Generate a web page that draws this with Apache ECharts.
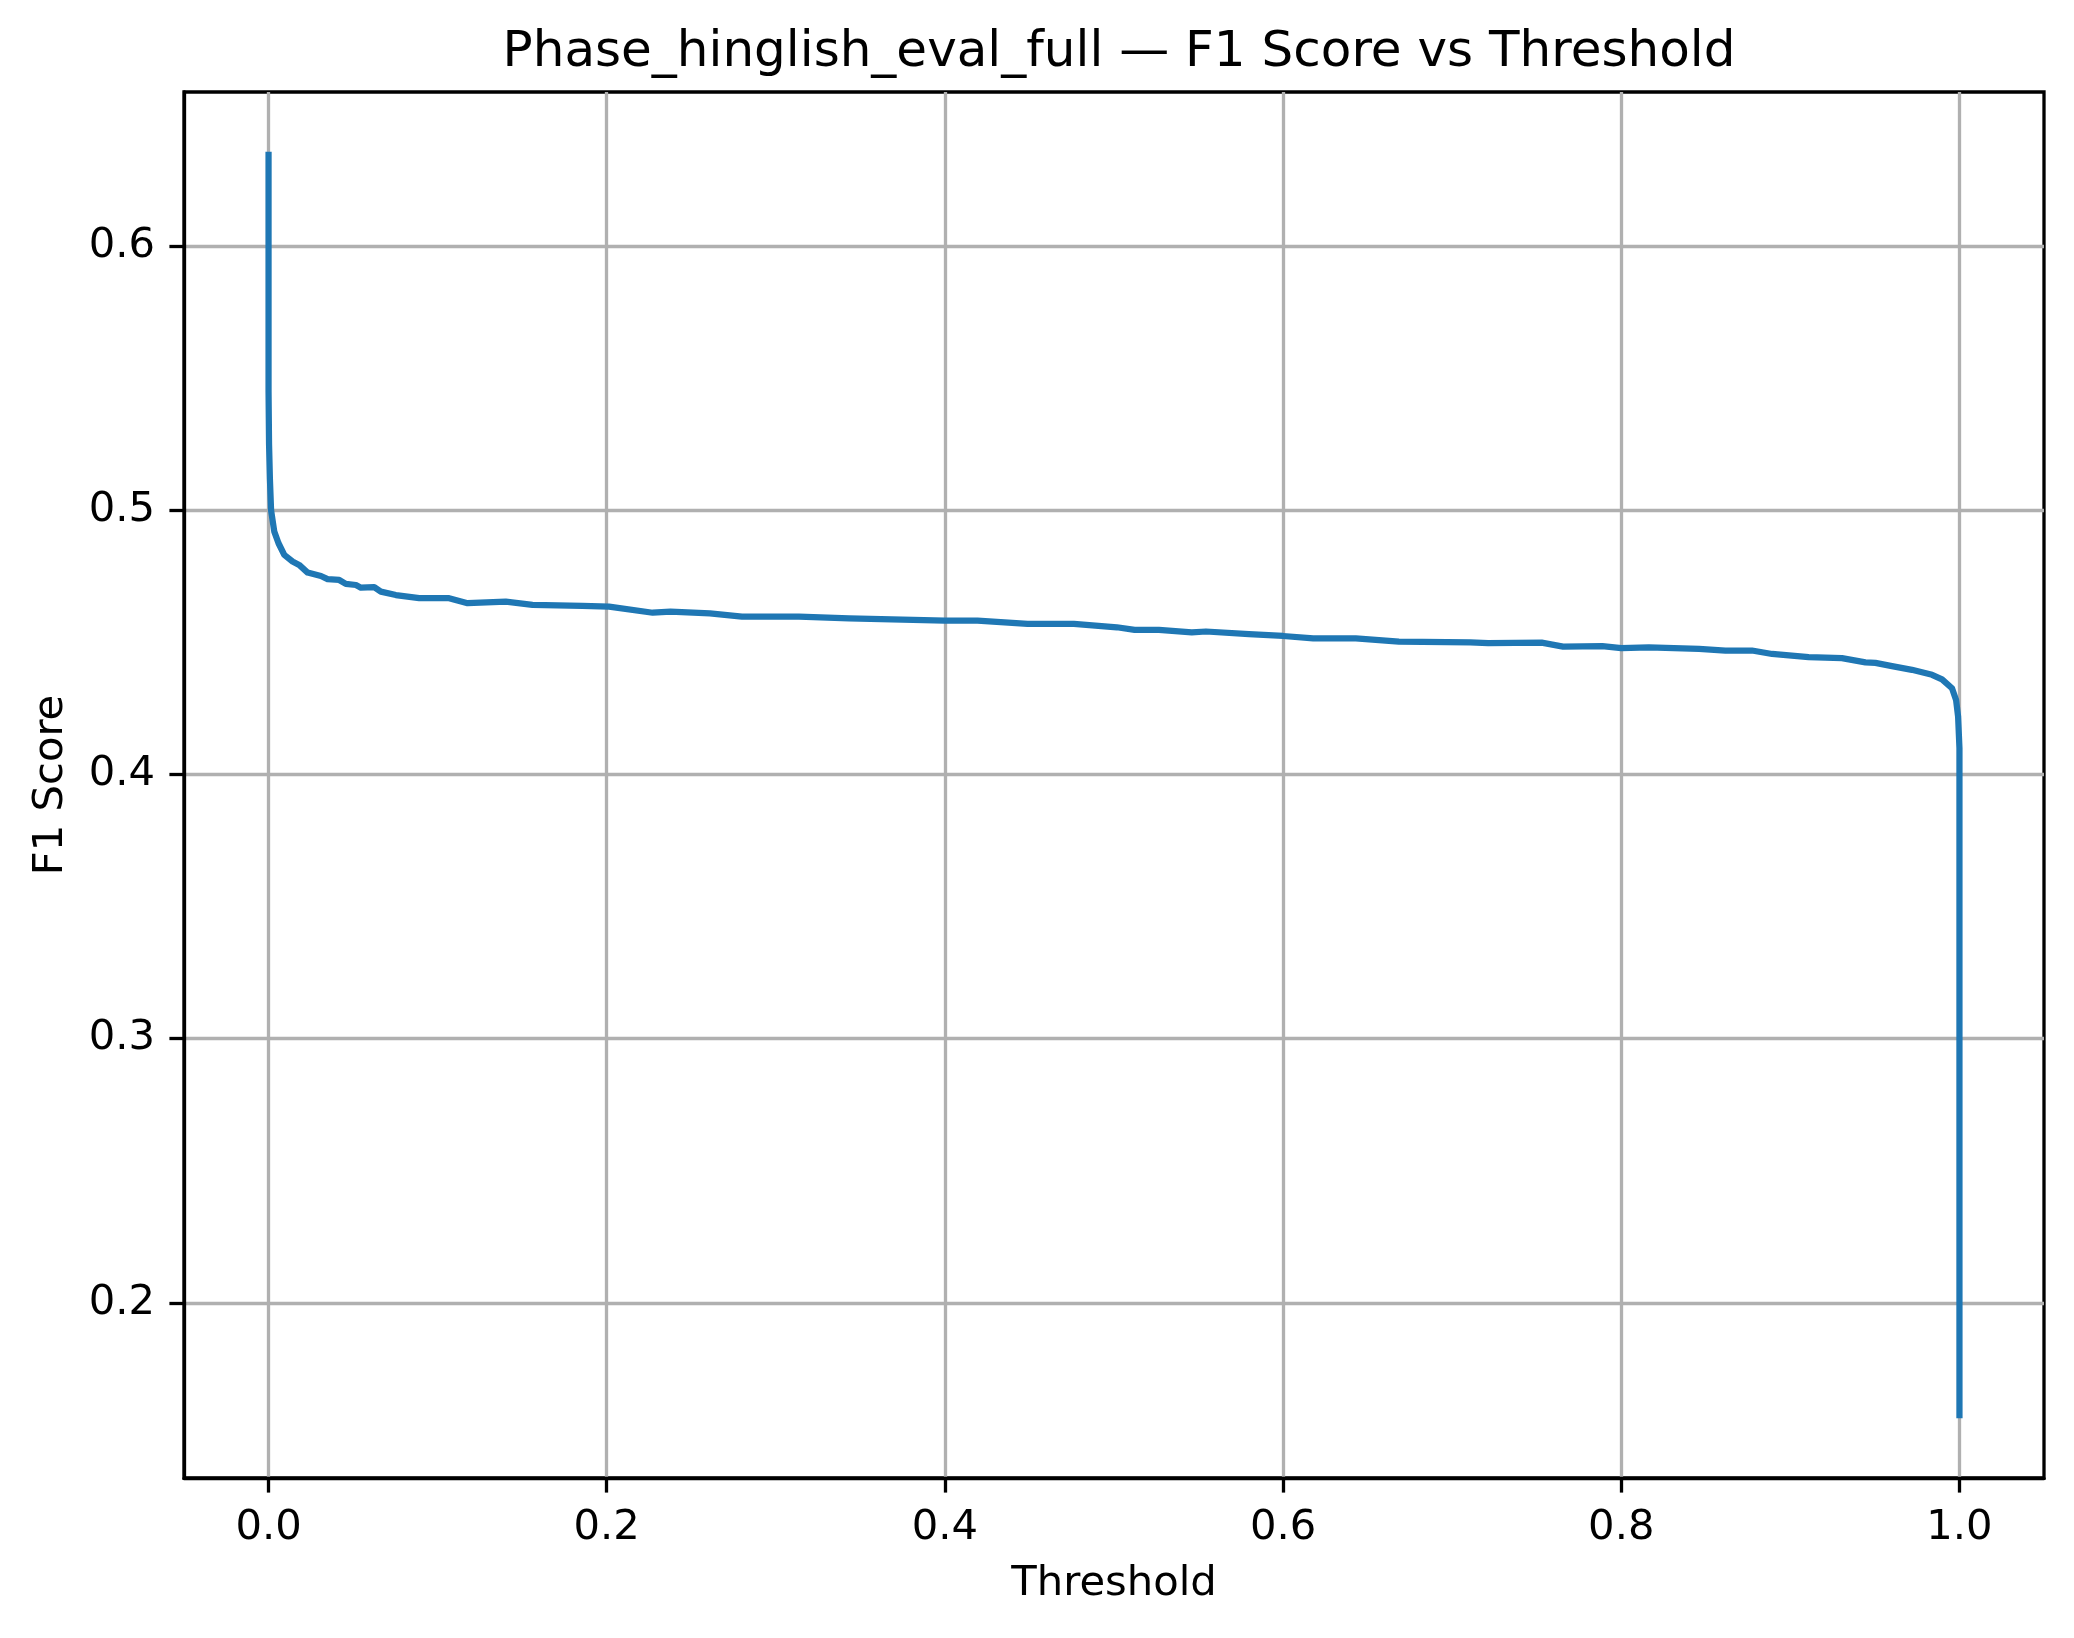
<!DOCTYPE html>
<html lang="en">
<head>
<meta charset="utf-8">
<title>Phase_hinglish_eval_full — F1 Score vs Threshold</title>
<script src="https://cdn.jsdelivr.net/npm/echarts@6/dist/echarts.min.js"></script>
<style>
  html, body { margin: 0; padding: 0; background: #ffffff; }
  #chart { width: 2074px; height: 1638px; }
</style>
</head>
<body>
<div id="chart"></div>
<script>
/* ------------------------------------------------------------------ */
/*  Data                              */
/* ------------------------------------------------------------------ */

/** Threshold values along the curve */
const thresholds = [
  0, 0, 0, 0.0003, 0.0008, 0.0015, 0.0034, 0.0059, 0.0093, 0.0142,
  0.0181, 0.0231, 0.031, 0.0349, 0.0418, 0.0457, 0.0517, 0.0546, 0.0625, 0.0664,
  0.0753, 0.0891, 0.1068, 0.1177, 0.1403, 0.1561, 0.1856, 0.2014, 0.2272, 0.2377,
  0.261, 0.28, 0.3137, 0.3433, 0.4, 0.4193, 0.4489, 0.4763, 0.5017, 0.5122,
  0.5266, 0.546, 0.5544, 0.5798, 0.6, 0.6178, 0.643, 0.6685, 0.7107, 0.7213,
  0.7529, 0.7656, 0.7888, 0.8, 0.8163, 0.846, 0.8616, 0.8773, 0.8892, 0.9108,
  0.9305, 0.9444, 0.9503, 0.9601, 0.9719, 0.9838, 0.9897, 0.9956, 0.998, 0.9992,
  1.0, 1.0
];

/** F1 score at each threshold */
const f1Scores = [
  0.6345, 0.590, 0.545, 0.525, 0.512, 0.500, 0.4919, 0.4875, 0.4831, 0.4806,
  0.4793, 0.4764, 0.4751, 0.4739, 0.4736, 0.4721, 0.4717, 0.4707, 0.4709, 0.4692,
  0.4679, 0.4667, 0.4667, 0.4648, 0.4654, 0.4642, 0.4638, 0.4635, 0.4612, 0.4616,
  0.4610, 0.4597, 0.4597, 0.4591, 0.4582, 0.4582, 0.4570, 0.4570, 0.4557, 0.4547,
  0.4547, 0.4538, 0.4541, 0.4531, 0.4524, 0.4515, 0.4515, 0.4503, 0.4500, 0.4497,
  0.4499, 0.4484, 0.4486, 0.4478, 0.4481, 0.4475, 0.4469, 0.4469, 0.4456, 0.4444,
  0.4440, 0.4424, 0.4422, 0.4410, 0.4396, 0.4377, 0.4360, 0.4326, 0.4282, 0.4219,
  0.410, 0.1575
];

/** Tick positions shown on each axis */
const xTicks = [0.0, 0.2, 0.4, 0.6, 0.8, 1.0];
const yTicks = [0.2, 0.3, 0.4, 0.5, 0.6];

const chartTitle = 'Phase_hinglish_eval_full — F1 Score vs Threshold';
const xName = 'Threshold';
const yName = 'F1 Score';

/* ------------------------------------------------------------------ */
/*  Chart                                                              */
/* ------------------------------------------------------------------ */

const FONT = '"DejaVu Sans", sans-serif';
const GRID_COLOR = '#b0b0b0';
const LINE_COLOR = '#1f77b4';

/**
 * Builds one value axis with matplotlib-like ticks, labels and grid
 * @param {number[]} ticks - tick values
 * @returns {Object} axis settings shared by x and y
 */
function axisStyle(ticks) {
  return {
    type: 'value',
    axisLine: { show: true, onZero: false, lineStyle: { color: '#000', width: 3.3 } },
    axisTick: {
      show: true, inside: false, length: 14.6, customValues: ticks,
      lineStyle: { color: '#000', width: 3.3 },
    },
    axisLabel: {
      show: true, margin: 29, customValues: ticks,
      color: '#000', fontFamily: FONT, fontSize: 41.7,
      formatter: (v) => v.toFixed(1),
    },
    splitLine: { show: true, lineStyle: { color: GRID_COLOR, width: 3.3 } },
    nameLocation: 'middle',
    nameTextStyle: { color: '#000', fontFamily: FONT, fontSize: 41.7 },
  };
}

const chart = echarts.init(document.getElementById('chart'), null, { renderer: 'canvas' });

chart.setOption({
  animation: false,
  backgroundColor: '#ffffff',
  title: {
    text: chartTitle,
    left: 1114,
    top: 23,
    textAlign: 'center',
    textStyle: { color: '#000', fontFamily: FONT, fontSize: 50, fontWeight: 'normal' },
  },
  grid: {
    left: 184, top: 92, width: 1860, height: 1386,
    show: true, borderColor: '#000', borderWidth: 3.3, backgroundColor: 'transparent',
  },
  xAxis: {
    ...axisStyle(xTicks),
    min: -0.05,
    max: 1.05,
    name: xName,
    nameGap: 85,
  },
  yAxis: {
    ...axisStyle(yTicks),
    min: 0.1337,
    max: 0.6583,
    name: yName,
    nameGap: 112,
    nameRotate: 90,
  },
  series: [{
    type: 'line',
    data: thresholds.map((t, i) => [t, f1Scores[i]]),
    showSymbol: false,
    symbol: 'none',
    smooth: false,
    clip: true,
    lineStyle: { color: LINE_COLOR, width: 6.25, cap: 'square', join: 'round' },
  }],
});
</script>
</body>
</html>
